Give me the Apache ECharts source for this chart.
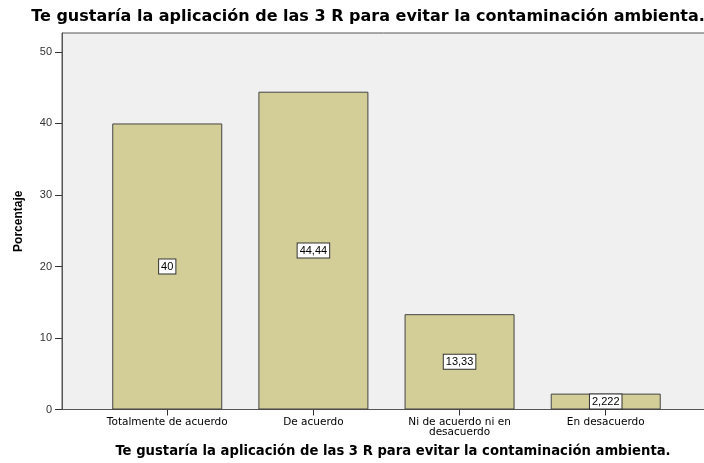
<!DOCTYPE html>
<html>
<head>
<meta charset="utf-8">
<script src="https://cdn.jsdelivr.net/npm/echarts@6/dist/echarts.min.js"></script>
<style>
  html, body { margin: 0; padding: 0; background: #fff; }
  #chart { width: 704px; height: 463px; }
</style>
</head>
<body>
<div id="chart"></div>
<script>
// datos
const categorias = ['Totalmente de acuerdo', 'De acuerdo', 'Ni de acuerdo ni en\ndesacuerdo', 'En desacuerdo']
const porcentajes = [40, 44.44, 13.33, 2.222]
const ticksY = [0, 10, 20, 30, 40, 50]
const titulo = 'Te gustaría la aplicación de las 3 R para evitar la contaminación ambienta.'

const chart = echarts.init(document.getElementById('chart'))

// posiciones de categoría en un eje de valores (estilo SPSS con margen)
const posiciones = categorias.map((c, i) => i)

const option = {
  animation: false,
  textStyle: { fontFamily: 'Liberation Sans, Arial, sans-serif' },
  grid: {
    left: 62,
    right: -2,
    top: 33,
    bottom: 53.5,
    outerBoundsMode: 'none',
    containLabel: false,
    show: true,
    backgroundColor: '#f0f0f0',
    borderColor: '#555',
    borderWidth: 1
  },
  graphic: [
    {
      type: 'text',
      x: 368,
      y: 17,
      style: {
        text: titulo,
        textAlign: 'center',
        textVerticalAlign: 'middle',
        font: 'bold 16px "DejaVu Sans", sans-serif',
        fill: '#000'
      }
    },
    {
      type: 'text',
      x: 393,
      y: 452,
      style: {
        text: titulo,
        textAlign: 'center',
        textVerticalAlign: 'middle',
        font: 'bold 13.2px "DejaVu Sans", sans-serif',
        fill: '#000'
      }
    }
  ],
  xAxis: {
    type: 'value',
    min: -0.72,
    max: 3.686,
    splitLine: { show: false },
    axisLine: { show: true, onZero: false, lineStyle: { color: '#555' } },
    axisTick: {
      show: true,
      length: 6,
      customValues: posiciones,
      lineStyle: { color: '#333' }
    },
    axisLabel: {
      customValues: posiciones,
      formatter: v => categorias[Math.round(v)] || '',
      color: '#000',
      fontFamily: 'DejaVu Sans',
      fontSize: 10.5,
      lineHeight: 10,
      margin: 8
    }
  },
  yAxis: {
    type: 'value',
    min: 0,
    max: 52.65,
    name: 'Porcentaje',
    nameLocation: 'middle',
    nameGap: 37,
    nameTextStyle: { fontWeight: 'bold', fontSize: 12, color: '#000' },
    splitLine: { show: false },
    axisLine: { show: true, onZero: false, lineStyle: { color: '#555' } },
    axisTick: {
      show: true,
      length: 7,
      customValues: ticksY,
      lineStyle: { color: '#333' }
    },
    axisLabel: {
      customValues: ticksY,
      color: '#333',
      fontSize: 11,
      margin: 10
    }
  },
  series: [
    {
      type: 'bar',
      barWidth: 110,
      data: porcentajes.map((v, i) => [posiciones[i], v]),
      itemStyle: {
        color: '#d3ce98',
        borderColor: '#444',
        borderWidth: 1
      },
      label: {
        show: true,
        position: 'inside',
        formatter: p => String(p.value[1]).replace('.', ','),
        color: '#000',
        fontSize: 11,
        backgroundColor: '#fff',
        borderColor: '#333',
        borderWidth: 1,
        padding: [2, 2, 1, 2]
      }
    }
  ]
}

chart.setOption(option)
</script>
</body>
</html>
